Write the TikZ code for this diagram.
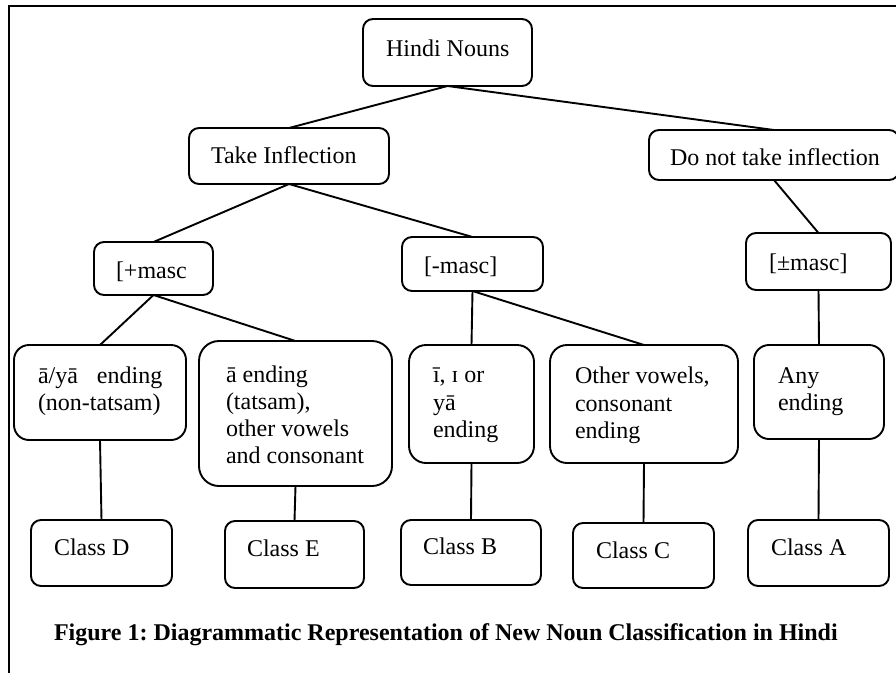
\documentclass[tikz,border=0pt]{standalone}
\usepackage{fontspec}
\setmainfont{Liberation Serif}
\frenchspacing
\begin{document}
\begin{tikzpicture}[x=1pt,y=-1pt,
  every node/.style={font=\fontsize{24}{27}\selectfont, inner sep=0pt, outer sep=0pt},
  box/.style={draw, line width=1.9pt, rounded corners=#1, anchor=north west, inner sep=0pt},
  box/.default=10pt,
  conn/.style={line width=1.9pt},
  lbl/.style={anchor=base west},
  frame/.style={line width=2pt}]
\useasboundingbox (0,0) rectangle (896,672);
\fill[white] (0,0) rectangle (896,672);
% frame
\draw[frame] (9,690) -- (9,6) -- (910,6);
% boxes
\node[box, minimum width=169pt, minimum height=67pt] (HN) at (363,19) {};
\node[box, minimum width=200pt, minimum height=56pt] (TI) at (189,128) {};
\node[box, minimum width=250pt, minimum height=50pt] (DN) at (649,130) {};
\node[box, minimum width=119pt, minimum height=53pt] (PM) at (94,242) {};
\node[box, minimum width=141pt, minimum height=54pt] (MM) at (402,237) {};
\node[box, minimum width=145pt, minimum height=57pt] (PMM) at (746,233) {};
\node[box=15pt, minimum width=172pt, minimum height=95pt] (AY) at (14,345) {};
\node[box=20pt, minimum width=193pt, minimum height=145pt] (AE) at (199,341) {};
\node[box=17pt, minimum width=125pt, minimum height=118pt] (II) at (409,345) {};
\node[box=17pt, minimum width=188pt, minimum height=118pt] (OV) at (550,345) {};
\node[box=15pt, minimum width=130pt, minimum height=94pt] (AN) at (754,345) {};
\node[box, minimum width=141pt, minimum height=66pt] (CD) at (31,520) {};
\node[box, minimum width=139pt, minimum height=67pt] (CE) at (225,521) {};
\node[box, minimum width=140pt, minimum height=65pt] (CB) at (401,520) {};
\node[box, minimum width=141pt, minimum height=65pt] (CC) at (573,523) {};
\node[box, minimum width=141pt, minimum height=66pt] (CA) at (748,520) {};
% connectors
\draw[conn] (HN.south) -- (TI.north);
\draw[conn] (HN.south) -- (DN.north);
\draw[conn] (TI.south) -- (PM.north);
\draw[conn] (TI.south) -- (MM.north);
\draw[conn] (DN.south) -- (PMM.north);
\draw[conn] (PM.south) -- (AY.north);
\draw[conn] (PM.south) -- (AE.north);
\draw[conn] (MM.south) -- (II.north);
\draw[conn] (MM.south) -- (OV.north);
\draw[conn] (PMM.south) -- (AN.north);
\draw[conn] (AY.south) -- (CD.north);
\draw[conn] (AE.south) -- (CE.north);
\draw[conn] (II.south) -- (CB.north);
\draw[conn] (OV.south) -- (CC.north);
\draw[conn] (AN.south) -- (CA.north);
% texts
\node[lbl] (tHN) at (386,56) {Hindi Nouns};
\node[lbl] (tTI) at (211,163) {Take Inflection};
\node[lbl] (tDN) at (670,165) {Do not take inflection};
\node[lbl] (tPM) at (116,278) {[+masc};
\node[lbl] (tMM) at (424,273) {[-masc]};
\node[lbl] (tPMM) at (769,270) {[±masc]};
\node[lbl] (tAY1) at (38,383) {ā/yā\hspace{19pt}ending};
\node[lbl] (tAY2) at (38,410) {(non-tatsam)};
\node[lbl] (tAE1) at (226,382) {ā ending};
\node[lbl] (tAE2) at (226,409) {(tatsam),};
\node[lbl] (tAE3) at (226,436) {other vowels};
\node[lbl] (tAE4) at (226,463) {and consonant};
\node[lbl] (tII1) at (433,382) {ī, ɪ or};
\node[lbl] (tII2) at (433,410) {yā};
\node[lbl] (tII3) at (433,437) {ending};
\node[lbl] (tOV1) at (575,383) {Other vowels,};
\node[lbl] (tOV2) at (575,411) {consonant};
\node[lbl] (tOV3) at (575,438) {ending};
\node[lbl] (tAN1) at (778,383) {Any};
\node[lbl] (tAN2) at (778,410) {ending};
\node[lbl] (tCD) at (54,555) {Class D};
\node[lbl] (tCE) at (247,556) {Class E};
\node[lbl] (tCB) at (423,554) {Class B};
\node[lbl] (tCC) at (596,558) {Class C};
\node[lbl] (tCA) at (771,555) {Class A};
\node[lbl, font=\fontsize{24}{27}\selectfont\bfseries] (cap) at (54,640) {Figure 1: Diagrammatic Representation of New Noun Classification in Hindi};
\end{tikzpicture}
\end{document}
